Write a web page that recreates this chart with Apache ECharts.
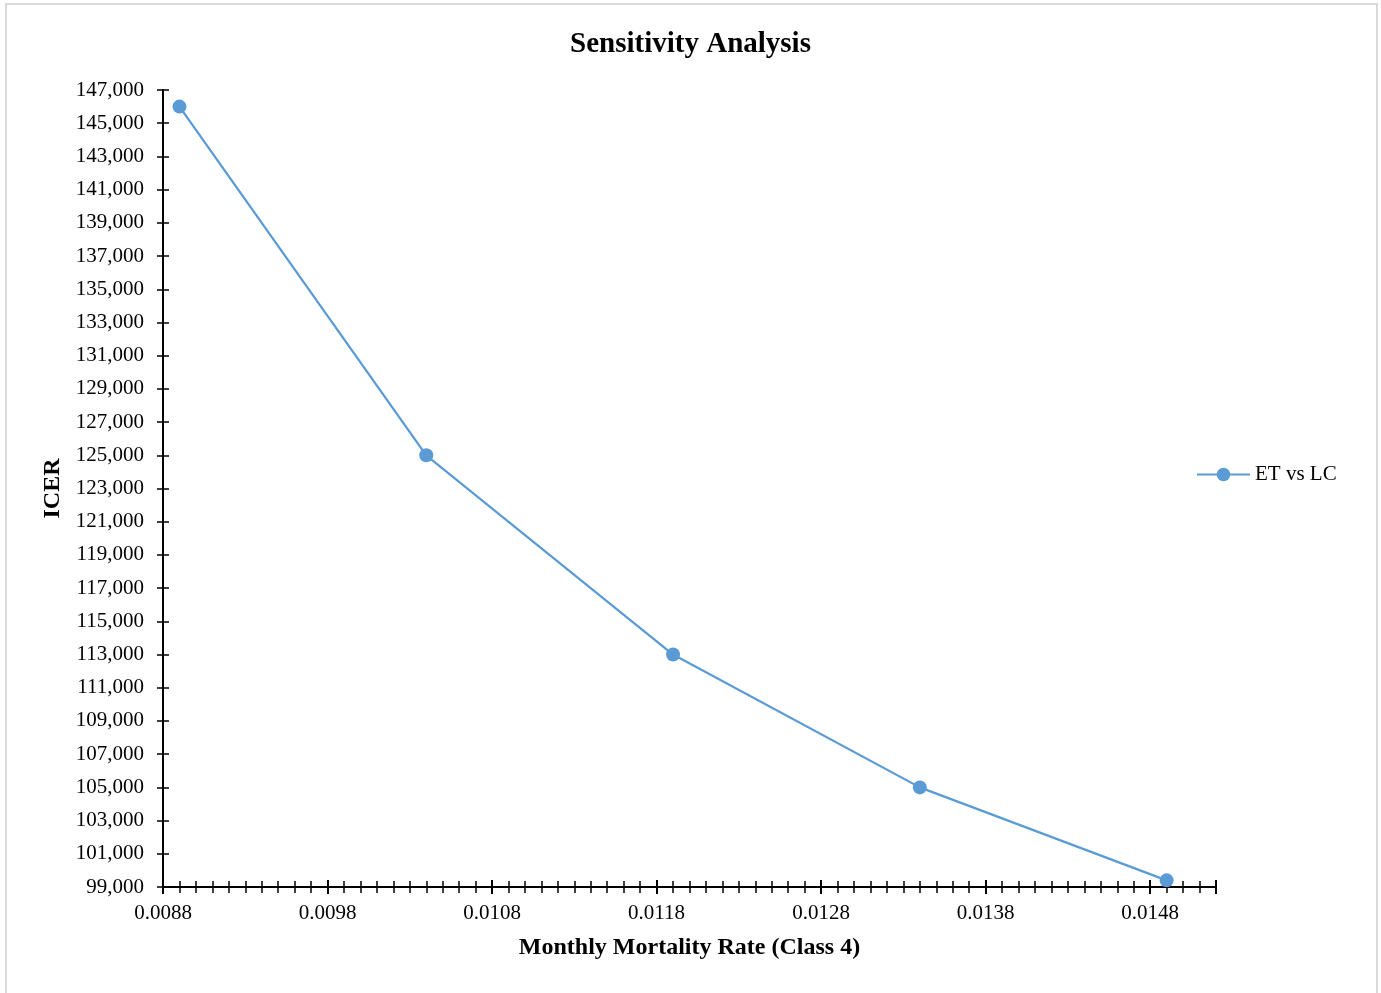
<!DOCTYPE html>
<html>
<head>
<meta charset="utf-8">
<script src="https://cdn.jsdelivr.net/npm/echarts@6/dist/echarts.min.js"></script>
<style>
  html, body { margin: 0; padding: 0; background: #fff; }
  #frame { position: absolute; left: 5px; top: 3px; width: 1369px; height: 1010px; border: 2px solid #d9d9d9; }
  #chart { position: absolute; left: 0; top: 0; width: 1381px; height: 993px; }
</style>
</head>
<body>
<div id="frame"></div>
<div id="chart"></div>
<script>
// ---- data ----
const titleText = 'Sensitivity Analysis';
const seriesName = 'ET vs LC';
const xAxisName = 'Monthly Mortality Rate (Class 4)';
const yAxisName = 'ICER';
const mortalityRates = [0.0089, 0.0104, 0.0119, 0.0134, 0.0149];
const icerValues = [146000, 125000, 113000, 105000, 99400];
const xRange = [0.0088, 0.0152];   // axis start / end
const yRange = [99000, 147000];
const xMajorStep = 0.001;
const xMinorStep = 0.0001;
const yMajorStep = 2000;

// axes are measured from their start so ticks line up with it
const xBase = xRange[0];
const yBase = yRange[0];
const seriesData = mortalityRates.map((x, i) => [x - xBase, icerValues[i] - yBase]);

const font = "'Liberation Serif', 'Times New Roman', serif";
const black = '#000';

const chart = echarts.init(document.getElementById('chart'), null, { renderer: 'canvas' });

function xLabel(v) {
  const k = v / xMajorStep;
  if (Math.abs(k - Math.round(k)) > 1e-6) return '';
  return (v + xBase).toFixed(4);
}
function yLabel(v) {
  return Math.round(v + yBase).toLocaleString('en-US');
}

const xCommon = {
  type: 'value',
  min: 0,
  max: xRange[1] - xBase,
  position: 'bottom',
  splitLine: { show: false },
  axisLine: { show: false, onZero: false }
};
const yCommon = {
  type: 'value',
  min: 0,
  max: yRange[1] - yBase,
  interval: yMajorStep,
  position: 'left',
  splitLine: { show: false },
  axisLine: { show: false, onZero: false }
};

const option = {
  backgroundColor: 'transparent',
  animation: false,
  title: {
    text: titleText,
    left: 'center',
    top: 25,
    textStyle: { fontFamily: font, fontSize: 29, fontWeight: 'bold', color: black }
  },
  legend: {
    data: [seriesName],
    orient: 'vertical',
    left: 1191,
    top: 459,
    itemWidth: 53,
    itemHeight: 17,
    textStyle: { fontFamily: font, fontSize: 21, color: black }
  },
  grid: { left: 163, right: 165, top: 90, bottom: 106, containLabel: false },
  xAxis: [
    Object.assign({}, xCommon, {
      interval: xMajorStep,
      axisLine: { show: true, onZero: false, lineStyle: { color: black, width: 2 } },
      axisTick: { show: true, length: 7, lineStyle: { color: black, width: 2 } },
      axisLabel: { show: true, margin: 16, formatter: xLabel, fontFamily: font, fontSize: 21, color: black, showMaxLabel: true },
      name: xAxisName,
      nameLocation: 'middle',
      nameGap: 49,
      nameTextStyle: { fontFamily: font, fontSize: 24, fontWeight: 'bold', color: black }
    }),
    Object.assign({}, xCommon, {
      interval: xMajorStep,
      axisTick: { show: true, inside: true, length: 7, lineStyle: { color: black, width: 2 } },
      axisLabel: { show: false }
    }),
    Object.assign({}, xCommon, {
      interval: xMinorStep,
      axisTick: { show: true, length: 6, lineStyle: { color: black, width: 1.5 } },
      axisLabel: { show: false }
    }),
    Object.assign({}, xCommon, {
      interval: xMinorStep,
      axisTick: { show: true, inside: true, length: 6, lineStyle: { color: black, width: 1.5 } },
      axisLabel: { show: false }
    })
  ],
  yAxis: [
    Object.assign({}, yCommon, {
      axisLine: { show: true, onZero: false, lineStyle: { color: black, width: 2 } },
      axisTick: { show: true, length: 6, lineStyle: { color: black, width: 1.5 } },
      axisLabel: { show: true, margin: 19, formatter: yLabel, fontFamily: font, fontSize: 21, color: black },
      name: yAxisName,
      nameLocation: 'middle',
      nameGap: 94,
      nameTextStyle: { fontFamily: font, fontSize: 24, fontWeight: 'bold', color: black }
    }),
    Object.assign({}, yCommon, {
      axisTick: { show: true, inside: true, length: 6, lineStyle: { color: black, width: 1.5 } },
      axisLabel: { show: false }
    })
  ],
  series: [{
    name: seriesName,
    type: 'line',
    xAxisIndex: 0,
    yAxisIndex: 0,
    data: seriesData,
    symbol: 'circle',
    symbolSize: 14,
    itemStyle: { color: '#5b9bd5' },
    lineStyle: { color: '#5b9bd5', width: 2.25 }
  }]
};

chart.setOption(option);
</script>
</body>
</html>
